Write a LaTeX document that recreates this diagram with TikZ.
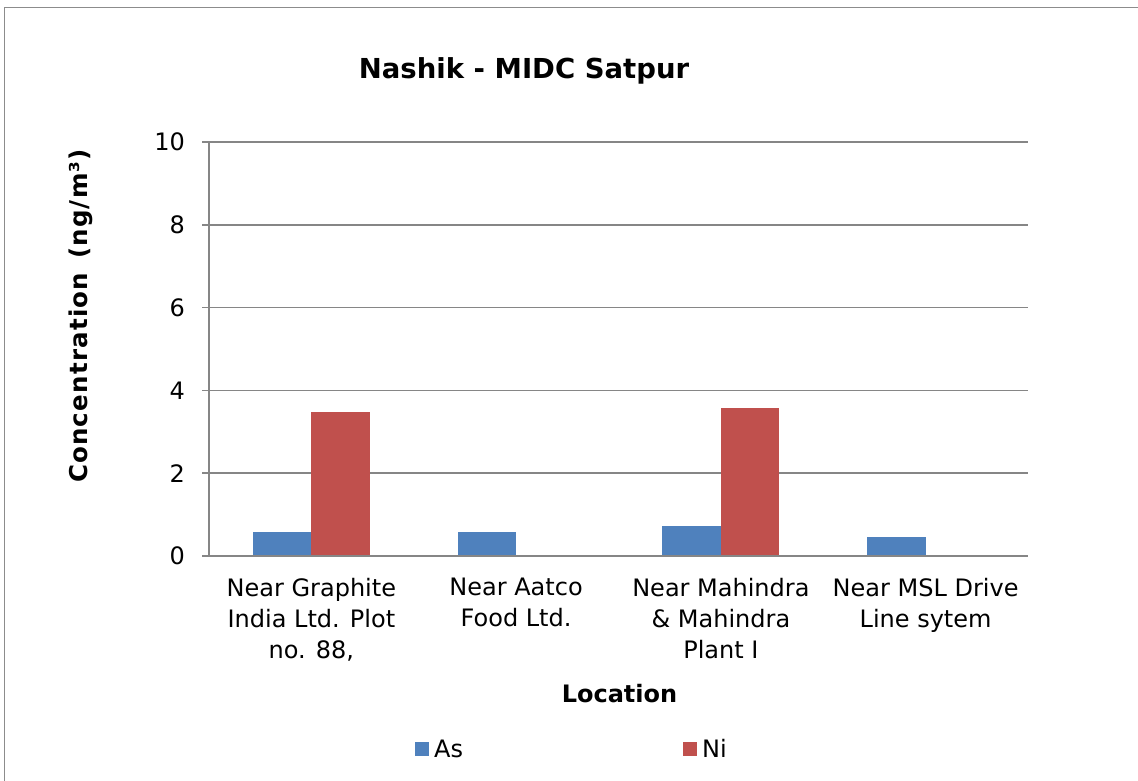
\documentclass[tikz,border=0pt]{standalone}
\usepackage{fontspec}
\setmainfont{DejaVu Sans}
\definecolor{asblue}{HTML}{4F81BD}
\definecolor{nired}{HTML}{C0504D}
\definecolor{gridgray}{HTML}{868686}
\definecolor{framegray}{HTML}{8C8C8C}
\begin{document}
\begin{tikzpicture}[x=1pt,y=-1pt,
  gridline/.style={draw=gridgray,line width=1.6pt},
  ticklabel/.style={anchor=east,inner sep=0pt,font=\fontsize{24}{28}\selectfont},
  catlabel/.style={anchor=north,inner sep=0pt,align=center,font=\fontsize{24}{31}\selectfont},
  asbar/.style={fill=asblue},
  nibar/.style={fill=nired},
  axtitle/.style={inner sep=0pt,font=\bfseries\fontsize{24}{28}\selectfont}]
\useasboundingbox (0,0) rectangle (1138,781);
% outer frame
\draw[framegray,line width=1.6pt] (4.5,790) -- (4.5,7.5) -- (1145,7.5);
% gridlines and ticks
\foreach \v in {0,2,...,10}{
  \draw[gridline] (202,{556-41.4*\v}) -- (1028,{556-41.4*\v});
  \node[ticklabel] (t\v) at (185,{556-41.4*\v}) {\v};
}
\draw[gridline] (209,142) -- (209,556);
% bars
\def\bw{58.5}
\foreach \c/\a/\n [count=\i] in {311.4/0.57/3.49, 516.1/0.57/0, 720.9/0.72/3.57, 925.6/0.45/0}{
  \fill[asbar] ({\c-\bw},{556-41.4*\a}) rectangle (\c,555);
  \ifdim \n pt>0pt
    \fill[nibar] (\c,{556-41.4*\n}) rectangle ({\c+\bw},555);
  \fi
}
\draw[gridline] (202,556) -- (1028,556);
% category labels
\node[catlabel] (c1) at (311.4,578) {Near Graphite\\India Ltd. Plot\\no. 88,};
\node[catlabel] (c2) at (516.1,578) {Near Aatco\\Food Ltd.};
\node[catlabel] (c3) at (720.9,578) {Near Mahindra\\\& Mahindra\\Plant I};
\node[catlabel] (c4) at (925.6,578) {Near MSL Drive\\Line sytem};
% titles
\node[inner sep=0pt,anchor=base,font=\bfseries\fontsize{27.5}{32}\selectfont] (title) at (524,79) {Nashik - MIDC Satpur};
\node[axtitle,anchor=base] (xt) at (619.5,702) {Location};
\node[axtitle,rotate=90,font=\bfseries\fontsize{24.5}{28}\selectfont\addfontfeatures{LetterSpace=5}] (yt) at (81,316) {Concentration\hspace{4pt} (ng/m³)};
% legend
\fill[asbar] (415,742) rectangle (429,756);
\node[inner sep=0pt,anchor=base west,font=\fontsize{24}{28}\selectfont] (las) at (434,757) {As};
\fill[nibar] (683,742) rectangle (697,756);
\node[inner sep=0pt,anchor=base west,font=\fontsize{24}{28}\selectfont] (lni) at (702,757) {Ni};
\end{tikzpicture}
\end{document}
